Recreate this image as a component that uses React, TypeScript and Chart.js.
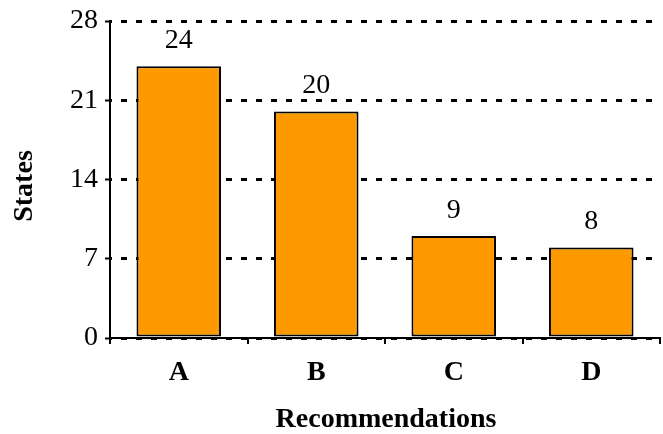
import React, { useEffect, useRef } from "react";
import { Chart, registerables } from "chart.js";

Chart.register(...registerables);

const categories = ["A", "B", "C", "D"];
const values = [24, 20, 9, 8];
const yTicks = [0, 7, 14, 21, 28];
const xTitle = "Recommendations";
const yTitle = "States";

const FONT = "'Liberation Serif', 'Times New Roman', serif";

const labelsPlugin = {
  id: "valueLabels",
  afterDatasetsDraw(chart: any) {
    const ctx = chart.ctx;
    const meta = chart.getDatasetMeta(0);
    ctx.save();
    ctx.fillStyle = "#000";
    ctx.font = `28px ${FONT}`;
    ctx.textAlign = "center";
    ctx.textBaseline = "alphabetic";
    meta.data.forEach((bar: any, i: number) => {
      ctx.fillText(String(values[i]), bar.x, bar.y - 18.5);
    });
    ctx.restore();
  },
};

const titlesPlugin = {
  id: "axisTitles",
  afterDraw(chart: any) {
    const ctx = chart.ctx;
    const area = chart.chartArea;
    ctx.save();
    ctx.fillStyle = "#000";
    ctx.font = `bold 28px ${FONT}`;
    ctx.textAlign = "center";
    ctx.textBaseline = "alphabetic";
    ctx.fillText(xTitle, (area.left + area.right) / 2 + 1, 427);
    ctx.translate(32, 186);
    ctx.rotate(-Math.PI / 2);
    ctx.fillText(yTitle, 0, 0);
    ctx.restore();
  },
};

export default function App() {
  const ref = useRef<HTMLCanvasElement | null>(null);
  useEffect(() => {
    if (!ref.current) return;
    const chart = new Chart(ref.current, {
      type: "bar",
      data: {
        labels: categories,
        datasets: [
          {
            data: values,
            backgroundColor: "#FF9900",
            borderColor: "#000",
            borderWidth: 2,
            borderSkipped: false,
            barPercentage: 0.615,
            categoryPercentage: 1,
          },
        ],
      },
      options: {
        responsive: false,
        animation: false,
        maintainAspectRatio: false,
        layout: { padding: { top: 16, right: 3, left: 0, bottom: 0 } },
        plugins: {
          legend: { display: false },
          tooltip: { enabled: false },
        },
        scales: {
          x: {
            offset: true,
            afterFit: (s: any) => {
              s.height = 96;
            },
            grid: {
              display: true,
              drawOnChartArea: false,
              drawTicks: true,
              offset: true,
              tickLength: 6,
              tickColor: "#000",
              tickWidth: 2,
              color: "#000",
              lineWidth: 2,
            },
            border: { display: true, color: "#000", width: 2 },
            ticks: {
              color: "#000",
              padding: 12,
              font: { family: FONT, size: 28, weight: "bold" },
            },
          },
          y: {
            min: 0,
            max: 28,
            afterFit: (s: any) => {
              s.width = 110;
            },
            afterBuildTicks: (s: any) => {
              s.ticks = yTicks.map((v) => ({ value: v }));
            },
            grid: {
              color: "#000",
              lineWidth: 3,
              drawTicks: true,
              tickLength: 5,
              tickColor: "#000",
              tickWidth: 2,
              tickBorderDash: [],
            },
            border: { display: true, color: "#000", width: 2, dash: [6, 9], dashOffset: 5 },
            ticks: {
              color: "#000",
              padding: 7,
              font: { family: FONT, size: 28, lineHeight: 1 },
            },
          },
        },
      },
      plugins: [labelsPlugin, titlesPlugin],
    });
    return () => chart.destroy();
  }, []);
  return (
    <div style={{ position: "absolute", left: 0, top: 0, width: 663, height: 434, background: "#fff" }}>
      <canvas ref={ref} width={663} height={434} style={{ width: 663, height: 434, display: "block" }} />
    </div>
  );
}
